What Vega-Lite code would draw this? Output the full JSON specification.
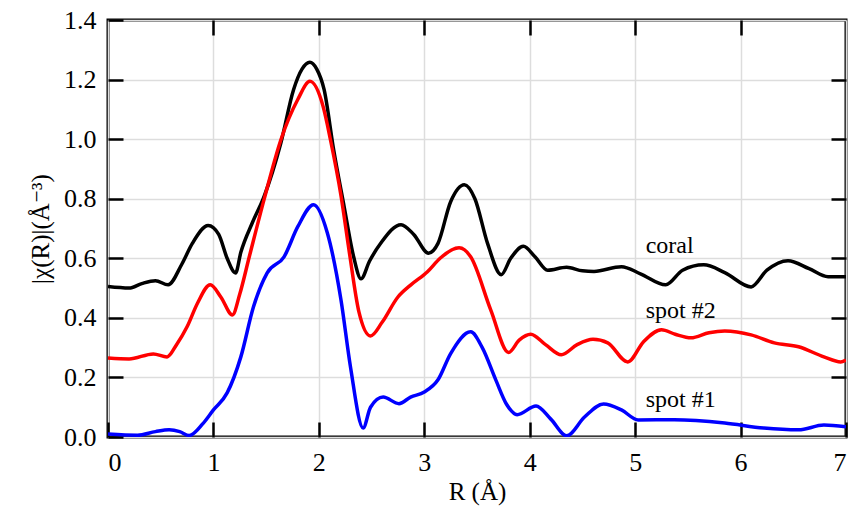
{
  "$schema": "https://vega.github.io/schema/vega-lite/v6.json",
  "width": 738,
  "height": 417,
  "autosize": {"type": "none"},
  "padding": {"left": 108, "top": 20, "right": 17, "bottom": 75},
  "background": "white",
  "config": {
    "view": {"stroke": "black", "strokeWidth": 3}
  },
  "datasets": {
    "curves": [
      {"series": "coral", "r": 0, "chi": 0.505},
      {"series": "coral", "r": 0.2, "chi": 0.5},
      {"series": "coral", "r": 0.32, "chi": 0.515},
      {"series": "coral", "r": 0.45, "chi": 0.525},
      {"series": "coral", "r": 0.57, "chi": 0.511},
      {"series": "coral", "r": 0.7, "chi": 0.58},
      {"series": "coral", "r": 0.8, "chi": 0.65},
      {"series": "coral", "r": 0.95, "chi": 0.71},
      {"series": "coral", "r": 1.05, "chi": 0.68},
      {"series": "coral", "r": 1.13, "chi": 0.6},
      {"series": "coral", "r": 1.21, "chi": 0.551},
      {"series": "coral", "r": 1.26, "chi": 0.62},
      {"series": "coral", "r": 1.37, "chi": 0.72},
      {"series": "coral", "r": 1.48, "chi": 0.807},
      {"series": "coral", "r": 1.64, "chi": 0.988},
      {"series": "coral", "r": 1.76, "chi": 1.166},
      {"series": "coral", "r": 1.84, "chi": 1.235},
      {"series": "coral", "r": 1.914, "chi": 1.258},
      {"series": "coral", "r": 1.98, "chi": 1.235},
      {"series": "coral", "r": 2.05, "chi": 1.166},
      {"series": "coral", "r": 2.14, "chi": 0.965},
      {"series": "coral", "r": 2.24, "chi": 0.773},
      {"series": "coral", "r": 2.33, "chi": 0.605},
      {"series": "coral", "r": 2.4, "chi": 0.531},
      {"series": "coral", "r": 2.48, "chi": 0.59},
      {"series": "coral", "r": 2.59, "chi": 0.652},
      {"series": "coral", "r": 2.78, "chi": 0.713},
      {"series": "coral", "r": 2.9, "chi": 0.68},
      {"series": "coral", "r": 3.04, "chi": 0.617},
      {"series": "coral", "r": 3.13, "chi": 0.65},
      {"series": "coral", "r": 3.25, "chi": 0.79},
      {"series": "coral", "r": 3.38, "chi": 0.847},
      {"series": "coral", "r": 3.48, "chi": 0.8},
      {"series": "coral", "r": 3.6, "chi": 0.65},
      {"series": "coral", "r": 3.73, "chi": 0.545},
      {"series": "coral", "r": 3.82, "chi": 0.6},
      {"series": "coral", "r": 3.94, "chi": 0.64},
      {"series": "coral", "r": 4.05, "chi": 0.605},
      {"series": "coral", "r": 4.17, "chi": 0.56},
      {"series": "coral", "r": 4.35, "chi": 0.57},
      {"series": "coral", "r": 4.5, "chi": 0.558},
      {"series": "coral", "r": 4.61, "chi": 0.556},
      {"series": "coral", "r": 4.87, "chi": 0.572},
      {"series": "coral", "r": 5.05, "chi": 0.548},
      {"series": "coral", "r": 5.29, "chi": 0.511},
      {"series": "coral", "r": 5.45, "chi": 0.56},
      {"series": "coral", "r": 5.65, "chi": 0.578},
      {"series": "coral", "r": 5.85, "chi": 0.552},
      {"series": "coral", "r": 6.1, "chi": 0.504},
      {"series": "coral", "r": 6.25, "chi": 0.56},
      {"series": "coral", "r": 6.45, "chi": 0.592},
      {"series": "coral", "r": 6.65, "chi": 0.565},
      {"series": "coral", "r": 6.83, "chi": 0.538},
      {"series": "coral", "r": 7.0, "chi": 0.538},
      {"series": "spot #2", "r": 0, "chi": 0.265},
      {"series": "spot #2", "r": 0.2, "chi": 0.262},
      {"series": "spot #2", "r": 0.43, "chi": 0.279},
      {"series": "spot #2", "r": 0.56, "chi": 0.269},
      {"series": "spot #2", "r": 0.65, "chi": 0.31},
      {"series": "spot #2", "r": 0.75, "chi": 0.37},
      {"series": "spot #2", "r": 0.85, "chi": 0.45},
      {"series": "spot #2", "r": 0.97, "chi": 0.511},
      {"series": "spot #2", "r": 1.07, "chi": 0.47},
      {"series": "spot #2", "r": 1.18, "chi": 0.41},
      {"series": "spot #2", "r": 1.25, "chi": 0.48},
      {"series": "spot #2", "r": 1.34, "chi": 0.605},
      {"series": "spot #2", "r": 1.48, "chi": 0.797},
      {"series": "spot #2", "r": 1.64, "chi": 0.998},
      {"series": "spot #2", "r": 1.8, "chi": 1.133},
      {"series": "spot #2", "r": 1.915, "chi": 1.194},
      {"series": "spot #2", "r": 2.04, "chi": 1.11},
      {"series": "spot #2", "r": 2.11, "chi": 0.998},
      {"series": "spot #2", "r": 2.21, "chi": 0.81},
      {"series": "spot #2", "r": 2.29, "chi": 0.618},
      {"series": "spot #2", "r": 2.38, "chi": 0.42},
      {"series": "spot #2", "r": 2.49, "chi": 0.339},
      {"series": "spot #2", "r": 2.6, "chi": 0.385},
      {"series": "spot #2", "r": 2.75, "chi": 0.47},
      {"series": "spot #2", "r": 2.87, "chi": 0.51},
      {"series": "spot #2", "r": 3.03, "chi": 0.555},
      {"series": "spot #2", "r": 3.15, "chi": 0.6},
      {"series": "spot #2", "r": 3.33, "chi": 0.635},
      {"series": "spot #2", "r": 3.44, "chi": 0.605},
      {"series": "spot #2", "r": 3.63, "chi": 0.427},
      {"series": "spot #2", "r": 3.8, "chi": 0.284},
      {"series": "spot #2", "r": 3.9, "chi": 0.325},
      {"series": "spot #2", "r": 4.01, "chi": 0.345},
      {"series": "spot #2", "r": 4.15, "chi": 0.31},
      {"series": "spot #2", "r": 4.3, "chi": 0.276},
      {"series": "spot #2", "r": 4.45, "chi": 0.31},
      {"series": "spot #2", "r": 4.6, "chi": 0.328},
      {"series": "spot #2", "r": 4.74, "chi": 0.316},
      {"series": "spot #2", "r": 4.93, "chi": 0.252},
      {"series": "spot #2", "r": 5.08, "chi": 0.32},
      {"series": "spot #2", "r": 5.25, "chi": 0.36},
      {"series": "spot #2", "r": 5.38, "chi": 0.345},
      {"series": "spot #2", "r": 5.53, "chi": 0.333},
      {"series": "spot #2", "r": 5.7, "chi": 0.35},
      {"series": "spot #2", "r": 5.85, "chi": 0.356},
      {"series": "spot #2", "r": 6.1, "chi": 0.343},
      {"series": "spot #2", "r": 6.32, "chi": 0.316},
      {"series": "spot #2", "r": 6.55, "chi": 0.303},
      {"series": "spot #2", "r": 6.79, "chi": 0.269},
      {"series": "spot #2", "r": 6.95, "chi": 0.252},
      {"series": "spot #2", "r": 7.0, "chi": 0.258},
      {"series": "spot #1", "r": 0, "chi": 0.01},
      {"series": "spot #1", "r": 0.28, "chi": 0.006},
      {"series": "spot #1", "r": 0.45, "chi": 0.018},
      {"series": "spot #1", "r": 0.58, "chi": 0.024},
      {"series": "spot #1", "r": 0.68, "chi": 0.018},
      {"series": "spot #1", "r": 0.77, "chi": 0.005},
      {"series": "spot #1", "r": 0.9, "chi": 0.045},
      {"series": "spot #1", "r": 1.0, "chi": 0.091},
      {"series": "spot #1", "r": 1.13, "chi": 0.148},
      {"series": "spot #1", "r": 1.26, "chi": 0.269},
      {"series": "spot #1", "r": 1.38, "chi": 0.437},
      {"series": "spot #1", "r": 1.51, "chi": 0.551},
      {"series": "spot #1", "r": 1.67, "chi": 0.605},
      {"series": "spot #1", "r": 1.8, "chi": 0.706},
      {"series": "spot #1", "r": 1.95, "chi": 0.78},
      {"series": "spot #1", "r": 2.08, "chi": 0.686},
      {"series": "spot #1", "r": 2.21, "chi": 0.46},
      {"series": "spot #1", "r": 2.3, "chi": 0.235},
      {"series": "spot #1", "r": 2.42, "chi": 0.03},
      {"series": "spot #1", "r": 2.49, "chi": 0.1},
      {"series": "spot #1", "r": 2.61, "chi": 0.134},
      {"series": "spot #1", "r": 2.76, "chi": 0.112},
      {"series": "spot #1", "r": 2.87, "chi": 0.134},
      {"series": "spot #1", "r": 3.0, "chi": 0.151},
      {"series": "spot #1", "r": 3.13, "chi": 0.192},
      {"series": "spot #1", "r": 3.25, "chi": 0.28},
      {"series": "spot #1", "r": 3.44, "chi": 0.353},
      {"series": "spot #1", "r": 3.55, "chi": 0.3},
      {"series": "spot #1", "r": 3.68, "chi": 0.19},
      {"series": "spot #1", "r": 3.78, "chi": 0.11},
      {"series": "spot #1", "r": 3.88, "chi": 0.075},
      {"series": "spot #1", "r": 4.06, "chi": 0.104},
      {"series": "spot #1", "r": 4.2, "chi": 0.06},
      {"series": "spot #1", "r": 4.35, "chi": 0.004},
      {"series": "spot #1", "r": 4.52, "chi": 0.067},
      {"series": "spot #1", "r": 4.7, "chi": 0.111},
      {"series": "spot #1", "r": 4.87, "chi": 0.091},
      {"series": "spot #1", "r": 5.03, "chi": 0.057},
      {"series": "spot #1", "r": 5.37, "chi": 0.058},
      {"series": "spot #1", "r": 5.85, "chi": 0.047},
      {"series": "spot #1", "r": 6.22, "chi": 0.03},
      {"series": "spot #1", "r": 6.55, "chi": 0.024},
      {"series": "spot #1", "r": 6.79, "chi": 0.04},
      {"series": "spot #1", "r": 7.0, "chi": 0.034}
    ],
    "labels": [
      {"label": "coral", "lx": 5.1, "ly": 0.618},
      {"label": "spot #2", "lx": 5.1, "ly": 0.4},
      {"label": "spot #1", "lx": 5.1, "ly": 0.1}
    ]
  },
  "layer": [
    {
      "data": {"name": "curves"},
      "mark": {"type": "line", "interpolate": "monotone", "strokeWidth": 3.5, "clip": true},
      "encoding": {
        "x": {
          "field": "r", "type": "quantitative",
          "scale": {"domain": [0, 7], "nice": false, "zero": false},
          "axis": {
            "orient": "bottom", "values": [0, 1, 2, 3, 4, 5, 6, 7], "format": "d",
            "domain": false, "grid": true, "gridColor": "#dddddd", "gridWidth": 1.5,
            "ticks": true, "tickSize": -15, "tickColor": "black", "tickWidth": 2.5,
            "labelFont": "Times New Roman, Liberation Serif, DejaVu Serif, serif", "labelFontSize": 26, "labelColor": "black", "labelPadding": 27,
            "title": "R (Å)", "titleFont": "Times New Roman, Liberation Serif, DejaVu Serif, serif", "titleFontSize": 25, "titleFontWeight": "normal", "titleColor": "black", "titlePadding": 4
          }
        },
        "y": {
          "field": "chi", "type": "quantitative",
          "scale": {"domain": [0, 1.4], "nice": false},
          "axis": {
            "orient": "left", "values": [0, 0.2, 0.4, 0.6, 0.8, 1.0, 1.2, 1.4], "format": ".1f",
            "domain": false, "grid": true, "gridColor": "#dddddd", "gridWidth": 1.5,
            "ticks": true, "tickSize": -15, "tickColor": "black", "tickWidth": 2.5,
            "labelFont": "Times New Roman, Liberation Serif, DejaVu Serif, serif", "labelFontSize": 26, "labelColor": "black", "labelPadding": 27,
            "title": "|χ(R)|(Å⁻³)", "titleFont": "Times New Roman, Liberation Serif, DejaVu Serif, serif", "titleFontSize": 25, "titleFontWeight": "normal", "titleColor": "black", "titlePadding": 10
          }
        },
        "color": {
          "field": "series", "type": "nominal",
          "scale": {"domain": ["coral", "spot #2", "spot #1"], "range": ["#000000", "#ff0000", "#0000ff"]},
          "legend": null
        },
        "order": {"field": "r", "type": "quantitative"}
      }
    },
    {
      "data": {"name": "labels"},
      "mark": {"type": "text", "align": "left", "baseline": "alphabetic", "font": "Times New Roman, Liberation Serif, DejaVu Serif, serif", "fontSize": 24, "color": "black"},
      "encoding": {
        "x": {
          "field": "lx", "type": "quantitative",
          "axis": {"orient": "top", "values": [1, 2, 3, 4, 5, 6], "labels": false, "grid": false, "domain": false, "title": null,
                   "ticks": true, "tickSize": -15, "tickColor": "black", "tickWidth": 2.5}
        },
        "y": {
          "field": "ly", "type": "quantitative",
          "axis": {"orient": "right", "values": [0.2, 0.4, 0.6, 0.8, 1.0, 1.2], "labels": false, "grid": false, "domain": false, "title": null,
                   "ticks": true, "tickSize": -15, "tickColor": "black", "tickWidth": 2.5}
        },
        "text": {"field": "label"}
      }
    }
  ],
  "resolve": {"axis": {"x": "independent", "y": "independent"}}
}
